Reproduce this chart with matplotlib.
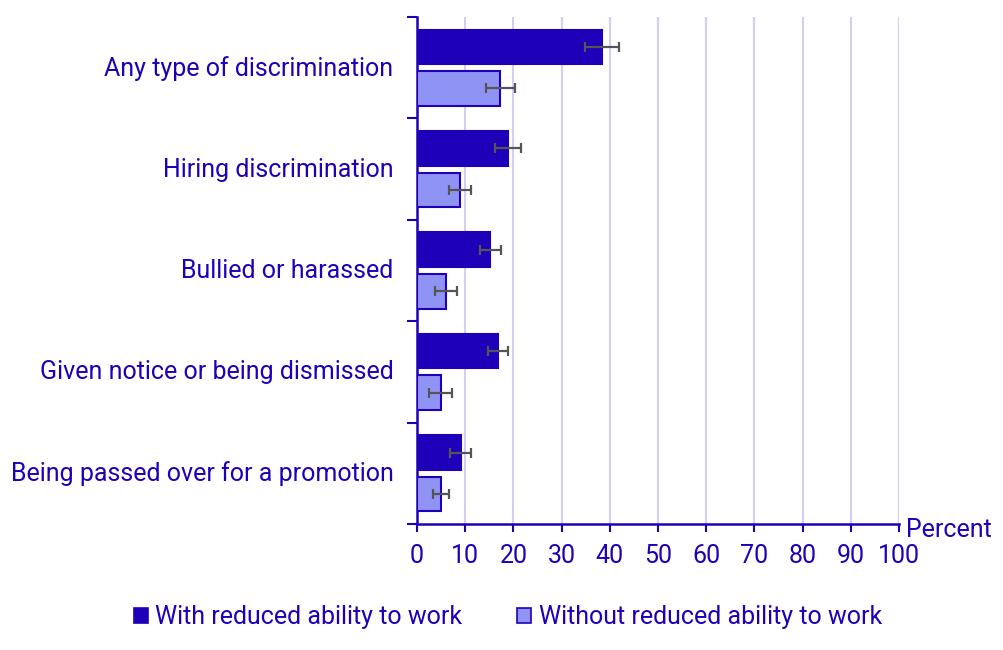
import numpy as np
import matplotlib.pyplot as plt
from matplotlib.patches import Patch

plt.rcParams['font.family'] = ['Roboto', 'DejaVu Sans']

categories = ['Any type of discrimination', 'Hiring discrimination', 'Bullied or harassed',
              'Given notice or being dismissed', 'Being passed over for a promotion']
with_reduced = [38.4, 18.9, 15.2, 16.8, 9.1]
with_err = [3.5, 2.7, 2.2, 2.0, 2.2]
without_reduced = [17.3, 9.0, 6.1, 4.9, 5.0]
without_err = [3.0, 2.3, 2.3, 2.4, 1.7]
series_names = ['With reduced ability to work', 'Without reduced ability to work']

dark = '#1F00B9'
light = '#8F93F4'
grid_col = '#D2CFF2'
err_col = '#555555'
fs = 18

fig = plt.figure(figsize=(10.04, 6.5), dpi=100)
ax = fig.add_axes([417/1004, 1-524/650, 482/1004, 507/650])

y = np.arange(len(categories))
h = 0.34
ax.barh(y - 0.205, with_reduced, height=h, color=dark, edgecolor=dark, linewidth=1.5, zorder=3)
ax.barh(y + 0.205, without_reduced, height=h, color=light, edgecolor=dark, linewidth=1.5, zorder=3)
ax.errorbar(with_reduced, y - 0.205, xerr=with_err, fmt='none', ecolor=err_col,
            elinewidth=1.6, capsize=3.5, capthick=1.6, zorder=4)
ax.errorbar(without_reduced, y + 0.205, xerr=without_err, fmt='none', ecolor=err_col,
            elinewidth=1.6, capsize=3.5, capthick=1.6, zorder=4)

ax.set_xlim(0, 100)
ax.set_ylim(len(categories) - 0.5, -0.5)
ax.set_xticks(np.arange(0, 101, 10))
ax.set_yticks(y - 0.02)
ax.set_yticklabels(categories)
ax.set_yticks(np.arange(-0.5, len(categories), 1), minor=True)
ax.tick_params(axis='y', which='major', length=0, pad=17, labelsize=fs, labelcolor=dark)
ax.tick_params(axis='y', which='minor', length=7, width=1.5, color=dark, direction='out')
ax.tick_params(axis='x', length=6, width=1.5, color=dark, labelsize=fs, labelcolor=dark, pad=8.5)

ax.grid(axis='x', color=grid_col, linewidth=1.5, zorder=0)
for s in ['top', 'right']:
    ax.spines[s].set_visible(False)
for s in ['left', 'bottom']:
    ax.spines[s].set_color(dark)
    ax.spines[s].set_linewidth(1.8)

ax.text(1.015, -0.012, 'Percent', transform=ax.transAxes, fontsize=fs, color=dark,
        va='center', ha='left')

handles = [Patch(facecolor=dark, edgecolor=dark, linewidth=1.2),
           Patch(facecolor=light, edgecolor=dark, linewidth=1.2)]
fig.legend(handles, series_names, loc='center', bbox_to_anchor=(508/1004, 1-617/650),
           ncol=2, frameon=False, fontsize=fs, labelcolor=dark, handlelength=0.55,
           handleheight=0.55, handletextpad=0.3, columnspacing=2.2)

fig.savefig('out.png', dpi=100)
